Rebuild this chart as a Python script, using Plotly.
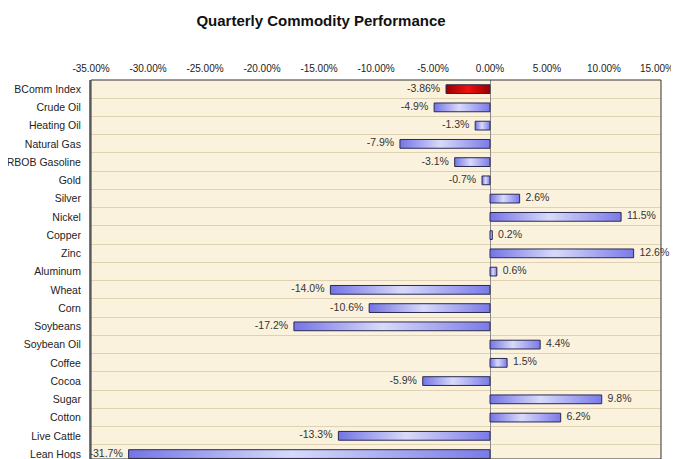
import plotly.graph_objects as go

categories = ["BComm Index", "Crude Oil", "Heating Oil", "Natural Gas", "RBOB Gasoline",
              "Gold", "Silver", "Nickel", "Copper", "Zinc", "Aluminum", "Wheat", "Corn",
              "Soybeans", "Soybean Oil", "Coffee", "Cocoa", "Sugar", "Cotton",
              "Live Cattle", "Lean Hogs"]
values = [-3.86, -4.9, -1.3, -7.9, -3.1, -0.7, 2.6, 11.5, 0.2, 12.6, 0.6, -14.0, -10.6,
          -17.2, 4.4, 1.5, -5.9, 9.8, 6.2, -13.3, -31.7]
labels = ["-3.86%"] + [f"{v:.1f}%" for v in values[1:]]
x_ticks = list(range(-35, 20, 5))
x_ticktext = [f"{t:.2f}%" for t in x_ticks]

BLUE_SCALE = [[0, "#7474E6"], [0.45, "#D8DAFA"], [1, "#7A7AE8"]]
RED_SCALE = [[0, "#960000"], [0.5, "#F01010"], [1, "#960000"]]
FONT = "Liberation Sans, Arial, sans-serif"

fig = go.Figure()
half = 0.24
for i, (c, v) in enumerate(zip(categories, values)):
    scale = RED_SCALE if i == 0 else BLUE_SCALE
    fig.add_trace(go.Scatter(
        x=[0, v, v, 0, 0], y=[i - half, i - half, i + half, i + half, i - half],
        mode="lines", fill="toself",
        fillgradient=dict(type="horizontal", colorscale=scale),
        line=dict(color="#2A2A50", width=1),
        hoverinfo="skip", showlegend=False))

neg_idx = [i for i, v in enumerate(values) if v < 0]
pos_idx = [i for i, v in enumerate(values) if v >= 0]
fig.add_trace(go.Scatter(
    x=[values[i] for i in neg_idx], y=neg_idx, mode="text",
    text=[labels[i] + "  " for i in neg_idx], textposition="middle left",
    textfont=dict(family=FONT, size=10.5, color="#333333"),
    showlegend=False, hoverinfo="skip", cliponaxis=False))
fig.add_trace(go.Scatter(
    x=[values[i] for i in pos_idx], y=pos_idx, mode="text",
    text=["  " + labels[i] for i in pos_idx], textposition="middle right",
    textfont=dict(family=FONT, size=10.5, color="#333333"),
    showlegend=False, hoverinfo="skip", cliponaxis=False))

fig.update_layout(
    width=671, height=451,
    margin=dict(l=83, r=18, t=72, b=0, autoexpand=False),
    paper_bgcolor="white", plot_bgcolor="#FBF2DE",
    font=dict(family=FONT, size=10.5, color="#222222"),
    title=dict(text="<b>Quarterly Commodity Performance</b>", x=313 / 671, xref="container",
               xanchor="center", y=1 - 13 / 451, yanchor="middle",
               font=dict(size=15, color="#111111")),
    xaxis=dict(side="top", range=[-35, 15], tickvals=x_ticks[:-1],
               ticktext=x_ticktext[:-1], showgrid=False,
               zeroline=True, zerolinecolor="#8A8A8A", zerolinewidth=1,
               showline=False, ticks="", ticklabelstandoff=5, automargin=False,
               ticklabeloverflow="allow",
               tickfont=dict(size=10, color="#222222")),
    yaxis=dict(range=[20.27, -0.5], tickvals=list(range(len(categories))),
               ticktext=categories, showgrid=False, zeroline=False,
               showline=True, linecolor="#7A7A7A", linewidth=2,
               ticks="", ticklabelstandoff=6, automargin=False,
               ticklabeloverflow="allow",
               minor=dict(tickvals=[i + 0.5 for i in range(len(categories))],
                          showgrid=True, gridcolor="#DFD2B2", gridwidth=1, ticks=""),
               tickfont=dict(size=10.5, color="#222222")),
    annotations=[dict(x=x_ticks[-1], xref="x", y=1, yref="paper", text=x_ticktext[-1],
                      showarrow=False, xanchor="right", yanchor="bottom",
                      xshift=15, yshift=4, font=dict(size=10, color="#222222"))],
    shapes=[dict(type="rect", xref="paper", yref="paper", x0=0, x1=1, y0=0, y1=1,
                 line=dict(color="#333333", width=1), layer="above")],
)
fig.write_html("out.html")
